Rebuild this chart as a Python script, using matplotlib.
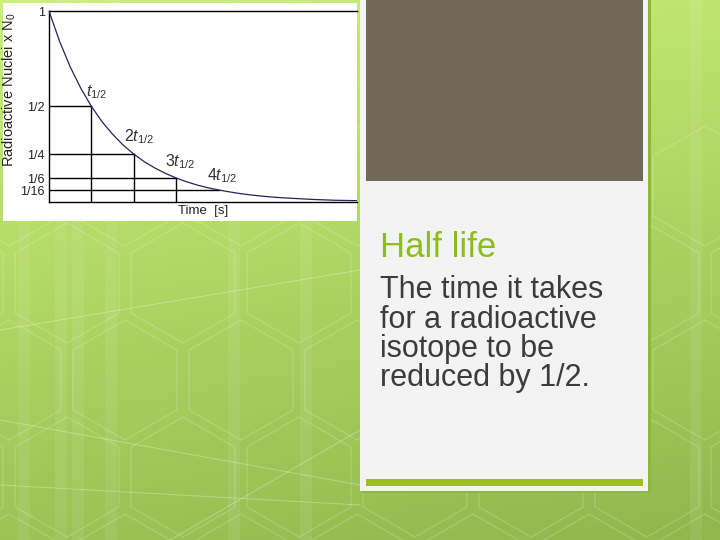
import numpy as np
import matplotlib
matplotlib.use("Agg")
import matplotlib.pyplot as plt
from matplotlib.patches import Rectangle, RegularPolygon

plt.rcParams['font.family'] = ['Liberation Sans', 'DejaVu Sans']
plt.rcParams['mathtext.fontset'] = 'custom'
plt.rcParams['mathtext.rm'] = 'Liberation Sans'
plt.rcParams['mathtext.it'] = 'Liberation Sans:italic'

# ---- data ----
curve_t = [0, 0.25, 0.5, 0.75, 1, 1.25, 1.5, 1.75, 2, 2.25, 2.5, 2.75, 3, 3.25, 3.5,
           3.75, 4, 4.25, 4.5, 4.75, 5, 5.25, 5.5, 5.75, 6, 6.25, 6.5, 6.75, 7, 7.25]
curve_n = [1.0, 0.841, 0.707, 0.595, 0.5, 0.420, 0.354, 0.297, 0.25, 0.210, 0.177, 0.149,
           0.125, 0.105, 0.088, 0.074, 0.0625, 0.053, 0.044, 0.037, 0.031, 0.026, 0.022,
           0.019, 0.016, 0.013, 0.011, 0.009, 0.008, 0.007]
halflife_t = [1, 2, 3, 4]
halflife_n = [0.5, 0.25, 0.125, 0.0625]
halflife_labels = [r'$t_{1/2}$', r'2$t_{1/2}$', r'3$t_{1/2}$', r'4$t_{1/2}$']
ytick_vals = [1, 0.5, 0.25, 0.125, 0.0625]
ytick_labels = ['1', '1/2', '1/4', '1/6', '1/16']
title_text = 'Half life'
body_lines = ['The time it takes', 'for a radioactive', 'isotope to be', 'reduced by 1/2.']

W, H = 720, 540
fig = plt.figure(figsize=(7.2, 5.4), dpi=100)

# ---- background ----
bg = fig.add_axes([0, 0, 1, 1])
bg.set_xlim(0, W)
bg.set_ylim(H, 0)
bg.axis('off')
yy, xx = np.mgrid[0:1:200j, 0:1:200j]
top = np.array([0.80, 0.94, 0.47])
bot = np.array([0.56, 0.72, 0.30])
g = (yy * 0.8 + xx * 0.2)[..., None]
img = top * (1 - g) + bot * g
bg.imshow(img, extent=[0, W, H, 0], aspect='auto', zorder=0)
for xs in [18, 55, 72, 105, 228, 300, 690]:
    bg.add_patch(Rectangle((xs, 0), 12, H, color='white', alpha=0.08, lw=0, zorder=1))
r = 60
for row in range(-1, 7):
    cy = 283 + row * 97
    off = 0 if row % 2 == 0 else 58
    for col in range(-1, 8):
        cx = 67 + off + col * 116
        bg.add_patch(RegularPolygon((cx, cy), 6, radius=r, orientation=0, fill=False,
                                    ec='white', alpha=0.17, lw=1.0, zorder=1))
for (x0, y0, x1, y1) in [(0, 330, 360, 270), (0, 420, 360, 485), (0, 485, 360, 505), (170, 540, 360, 430)]:
    bg.plot([x0, x1], [y0, y1], color='white', alpha=0.3, lw=0.7, zorder=1)

# chart white box
bg.add_patch(Rectangle((3, 3), 354, 218, color='white', lw=0, zorder=2))
# right panel
bg.add_patch(Rectangle((362, 0), 289, 493, color='#8fb83a', lw=0, zorder=2))
bg.add_patch(Rectangle((360, 0), 288, 491, color='#f3f3f3', lw=0, zorder=3))
bg.add_patch(Rectangle((366, 0), 277, 181, color='#71685a', lw=0, zorder=4))
bg.add_patch(Rectangle((366, 479), 277, 7, color='#99c31a', lw=0, zorder=4))

bg.text(380, 257, title_text, fontsize=25, color='#8cbd1a', ha='left', va='baseline', zorder=5)
baselines = [298, 328, 357, 386]
for line, b in zip(body_lines, baselines):
    bg.text(380, b, line, fontsize=22, color='#3c3c3c', ha='left', va='baseline', zorder=5)

# axis labels of chart
bg.text(9, 90, r'Radioactive Nuclei x N$_0$', rotation=90, fontsize=10.5, color='#222222',
        ha='center', va='center', zorder=5)
bg.text(203, 211, 'Time  [s]', fontsize=9.5, color='#222222', ha='center', va='center', zorder=5)

# ---- chart axes ----
ax = fig.add_axes([49 / W, 1 - 202 / H, (357 - 49) / W, (202 - 11) / H])
ax.patch.set_alpha(0)
ax.set_xlim(0, 7.25)
ax.set_ylim(0, 1)
ax.spines['right'].set_visible(False)
for s in ['left', 'bottom', 'top']:
    ax.spines[s].set_color('black')
    ax.spines[s].set_linewidth(1.0)
ax.set_xticks([])
ax.set_yticks(ytick_vals)
ax.set_yticklabels(ytick_labels, fontsize=9, color='#222222')
ax.tick_params(axis='y', length=0, pad=3)

ax.plot(curve_t, curve_n, color='#2b2060', lw=0.9, zorder=3)
for t, n in zip(halflife_t, halflife_n):
    ax.plot([0, t], [n, n], color='black', lw=1.0, zorder=2)
for t, n in zip(halflife_t[:3], halflife_n[:3]):
    ax.plot([t, t], [0, n], color='black', lw=1.0, zorder=2)

label_pos = [(0.87, 0.576), (1.76, 0.34), (2.73, 0.21), (3.72, 0.14)]
for (lx, ly), lab in zip(label_pos, halflife_labels):
    ax.text(lx, ly, lab, fontsize=11.5, color='#333333', ha='left', va='center')

fig.savefig('out.png', dpi=100)
